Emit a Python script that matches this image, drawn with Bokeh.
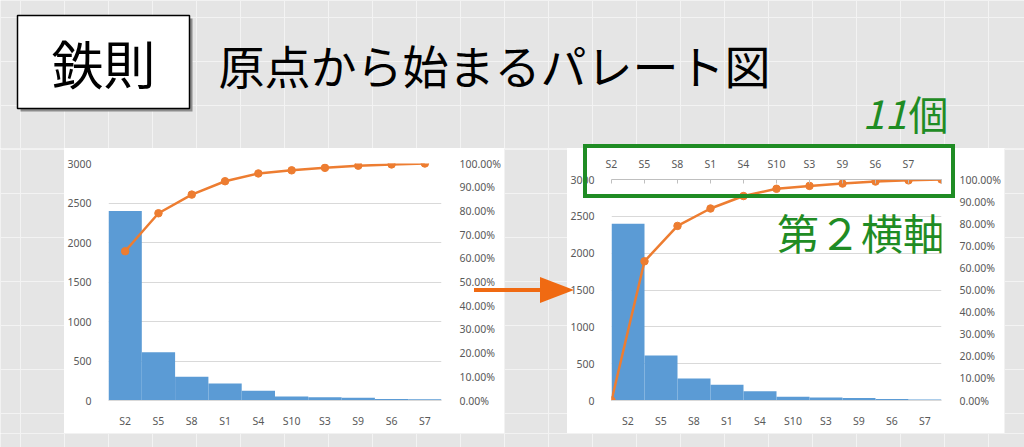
import numpy as np
from bokeh.plotting import figure
from bokeh.layouts import row, column
from bokeh.models import (Range1d, LinearAxis, FixedTicker, Div,
                          NumeralTickFormatter)
from bokeh.core.properties import value
from bokeh.embed import file_html
from bokeh.resources import INLINE

# ---------------- data ----------------
categories = ["S2", "S5", "S8", "S1", "S4", "S10", "S3", "S9", "S6", "S7"]
counts = [2400, 610, 300, 215, 125, 50, 40, 35, 20, 15]
count_ticks = [0, 500, 1000, 1500, 2000, 2500, 3000]
pct_ticks = [0.0, 0.1, 0.2, 0.3, 0.4, 0.5, 0.6, 0.7, 0.8, 0.9, 1.0]
second_axis_positions = [0, 1, 2, 3, 4, 5, 6, 7, 8, 9, 10]
second_axis_labels = ["S2", "S5", "S8", "S1", "S4", "S10", "S3", "S9", "S6", "S7", ""]

title_badge = "鉄則"
title_text = "原点から始まるパレート図"
note_count = "11"
note_count_suffix = "個"
note_axis = "第２横軸"

cum_pct = list(np.cumsum(counts) / np.sum(counts))
cum_pct_from_origin = [0.0] + cum_pct
cat_pos = [i + 0.5 for i in range(len(categories))]   # centre of each category slot

# ---------------- styles ----------------
BG = "#e5e5e5"
GL = "#f3f3f3"
BAR = "#5b9bd5"
LINE = "#ed7d31"
ARROW = "#f06a12"
GREEN = "#1f8c24"
TXT = "#595959"
GRID = "#d9d9d9"
JP = value("Noto Sans CJK JP")
LAT = "Noto Sans"
FS = "10.5px"

VX = [20 + 44 * k for k in range(24)]
HY = [17 + 44 * k for k in range(11)]


def bg_panel(x0, x1, y0, y1):
    p = figure(width=x1 - x0, height=y1 - y0, x_range=Range1d(x0, x1),
               y_range=Range1d(y1, y0), output_backend="svg",
               toolbar_location=None, min_border=0, frame_align=False,
               x_axis_location=None, y_axis_location=None,
               background_fill_color=BG, border_fill_color=BG,
               outline_line_color=None)
    p.xgrid.ticker = FixedTicker(ticks=VX)
    p.ygrid.ticker = FixedTicker(ticks=HY)
    p.xgrid.grid_line_color = GL
    p.ygrid.grid_line_color = GL
    return p


def style_axis(ax, standoff):
    ax.major_label_text_color = TXT
    ax.major_label_text_font = LAT
    ax.major_label_text_font_size = FS
    ax.major_label_standoff = standoff
    ax.major_tick_line_color = None
    ax.minor_tick_line_color = None
    ax.axis_line_color = None


def pareto(width, height, bl, br, bt, bb, frame_px, origin_line):
    p = figure(width=width, height=height,
               x_range=Range1d(0, len(categories)), y_range=Range1d(0, 3000),
               output_backend="svg", toolbar_location=None, frame_align=False,
               min_border_left=bl, min_border_right=br,
               min_border_top=bt, min_border_bottom=bb,
               background_fill_color="white", border_fill_color="white",
               outline_line_color=None)
    p.extra_y_ranges = {"pct": Range1d(0, 1),
                        "ry": Range1d(frame_px[3], frame_px[2])}
    p.extra_x_ranges = {"rx": Range1d(frame_px[0], frame_px[1])}
    p.yaxis.ticker = FixedTicker(ticks=count_ticks)
    style_axis(p.yaxis[0], 11)
    p.xaxis.ticker = FixedTicker(ticks=cat_pos)
    p.xaxis.major_label_overrides = {x: c for x, c in zip(cat_pos, categories)}
    style_axis(p.xaxis[0], 7)
    p.xaxis.axis_line_color = GRID
    p.xgrid.visible = False
    p.ygrid.grid_line_color = GRID
    p.ygrid.ticker = FixedTicker(ticks=count_ticks)

    ax = LinearAxis(y_range_name="pct", ticker=FixedTicker(ticks=pct_ticks),
                    formatter=NumeralTickFormatter(format="0.00%"))
    style_axis(ax, 12)
    p.add_layout(ax, "right")

    p.vbar(x=cat_pos, top=counts, width=1.0, fill_color=BAR, line_color=None)

    if origin_line:
        top = LinearAxis(ticker=FixedTicker(ticks=second_axis_positions),
                         major_label_overrides={i: s for i, s in zip(second_axis_positions, second_axis_labels)})
        style_axis(top, 9)
        top.axis_line_color = "#bfbfbf"
        top.major_tick_line_color = "#bfbfbf"
        top.major_tick_in = 4
        top.major_tick_out = 0
        p.add_layout(top, "above")
        p.line(x=second_axis_positions, y=cum_pct_from_origin,
               y_range_name="pct", line_color=LINE, line_width=2.5)
        p.scatter(x=second_axis_positions, y=cum_pct_from_origin,
                  y_range_name="pct", size=7.5, fill_color=LINE, line_color=LINE)
    else:
        p.line(x=cat_pos, y=cum_pct, y_range_name="pct",
               line_color=LINE, line_width=2.5)
        p.scatter(x=cat_pos, y=cum_pct, y_range_name="pct", size=7.5,
                  fill_color=LINE, line_color=LINE)
    return p


# ---------------- header ----------------
header = bg_panel(0, 1024, 0, 148)
header.quad(left=[20], right=[192], top=[18], bottom=[111], fill_color="#8c8c8c",
            line_color=None)
header.quad(left=[17], right=[189], top=[15], bottom=[108], fill_color="white",
            line_color="black", line_width=1.5)
header.text(x=[103], y=[62], text=[title_badge], text_align="center",
            text_baseline="middle", text_font=JP, text_font_size="52px",
            text_color="black")
header.text(x=[218], y=[63], text=[title_text], text_align="left",
            text_baseline="middle", text_font=JP, text_font_size="46px",
            text_color="black")
header.text(x=[862], y=[113], text=[note_count], text_align="left",
            text_baseline="middle", text_font=JP, text_font_size="40px",
            text_font_style="italic", text_color=GREEN)
header.text(x=[908], y=[112], text=[note_count_suffix], text_align="left",
            text_baseline="middle", text_font=JP, text_font_size="40px",
            text_color=GREEN)

# ---------------- charts ----------------
left = pareto(440, 285, 44, 61, 15, 33, (108, 443, 163, 400), False)

right = pareto(437, 285, 43, 61, 31, 33, (610, 943, 179, 400), True)
right.text(x=[777], y=[231], text=[note_axis], x_range_name="rx", y_range_name="ry",
           text_align="left", text_baseline="middle", text_font=JP,
           text_font_size="42px", text_color=GREEN)

spA = bg_panel(0, 64, 148, 433)
spB = bg_panel(504, 567, 148, 433)
spC = bg_panel(1004, 1024, 148, 433)
footer = bg_panel(0, 1024, 433, 447)

# decorations that cross the borders of the panels (slide overlay)
overlay_svg = (
    '<svg width="1024" height="447" xmlns="http://www.w3.org/2000/svg" '
    'style="position:absolute;left:0;top:0;overflow:visible">'
    f'<rect x="585" y="146" width="368" height="50" fill="none" stroke="{GREEN}" stroke-width="4"/>'
    f'<rect x="474" y="288" width="68" height="4" fill="{ARROW}"/>'
    f'<polygon points="540,277 574,290 540,303" fill="{ARROW}"/>'
    '</svg>'
)
overlay = Div(text=overlay_svg, width=1024, height=447, margin=0,
              styles={"position": "absolute", "left": "0px", "top": "0px",
                      "z-index": "10", "pointer-events": "none"})

layout = column(header, row(spA, left, spB, right, spC), footer, overlay)

open("out.html", "w").write(file_html(layout, INLINE))
